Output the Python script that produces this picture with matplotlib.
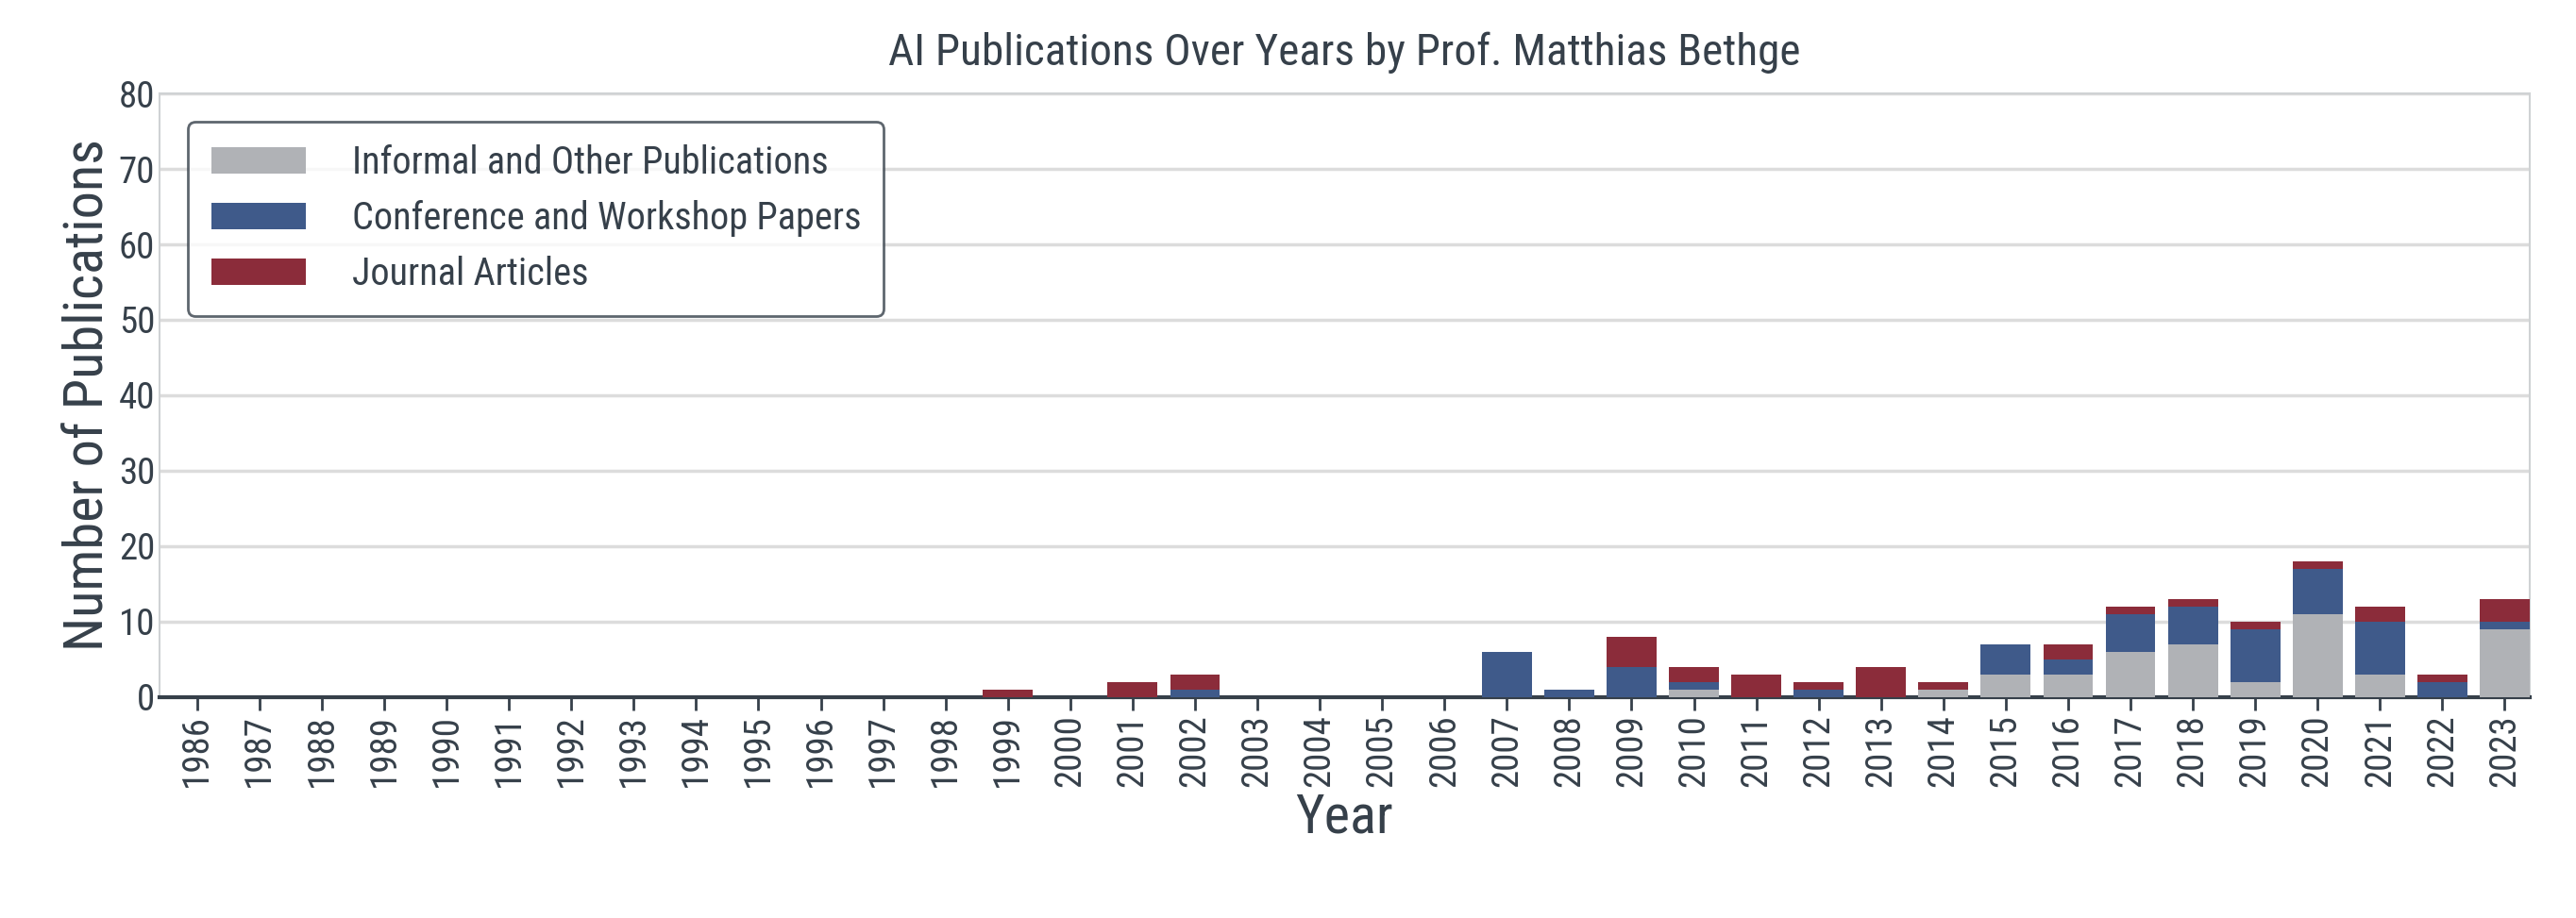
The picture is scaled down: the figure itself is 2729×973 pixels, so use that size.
import numpy as np
import matplotlib.pyplot as plt

years = list(range(1986, 2024))
informal = {2010: 1, 2014: 1, 2015: 3, 2016: 3, 2017: 6, 2018: 7, 2019: 2,
            2020: 11, 2021: 3, 2023: 9}
conference = {2002: 1, 2007: 6, 2008: 1, 2009: 4, 2010: 1, 2012: 1, 2015: 4,
              2016: 2, 2017: 5, 2018: 5, 2019: 7, 2020: 6, 2021: 7, 2022: 2, 2023: 1}
journal = {1999: 1, 2001: 2, 2002: 2, 2009: 4, 2010: 2, 2011: 3, 2012: 1, 2013: 4,
           2014: 1, 2016: 2, 2017: 1, 2018: 1, 2019: 1, 2020: 1, 2021: 2, 2022: 1, 2023: 3}

inf = np.array([informal.get(y, 0) for y in years])
conf = np.array([conference.get(y, 0) for y in years])
jour = np.array([journal.get(y, 0) for y in years])

plt.rcParams['font.family'] = ['Roboto Condensed', 'Roboto', 'DejaVu Sans']
dark = '#36404a'

fig = plt.figure(figsize=(27.29, 9.73), dpi=100)
ax = fig.add_axes([0.062, 0.241, 0.92, 0.657])
x = np.arange(len(years))
ax.bar(x, inf, width=0.8, color='#b0b2b6', label='Informal and Other Publications', zorder=3)
ax.bar(x, conf, width=0.8, bottom=inf, color='#3f5a8a', label='Conference and Workshop Papers', zorder=3)
ax.bar(x, jour, width=0.8, bottom=inf + conf, color='#8b2c3a', label='Journal Articles', zorder=3)

ax.set_xlim(-0.6, len(years) - 0.6)
ax.set_ylim(0, 80)
ax.set_yticks(range(0, 81, 10))
ax.set_xticks(x)
ax.set_xticklabels([str(y) for y in years], rotation=90)
ax.yaxis.grid(True, color='#dcdcdc', linewidth=2.5, zorder=0)
ax.tick_params(axis='both', labelsize=28, colors=dark, length=10, width=2)
ax.tick_params(axis='y', length=0)
for s in ['top', 'right', 'left']:
    ax.spines[s].set_color('#cfd2d4')
    ax.spines[s].set_linewidth(1.5)
ax.spines['bottom'].set_color(dark)
ax.spines['bottom'].set_linewidth(3)

ax.set_title('AI Publications Over Years by Prof. Matthias Bethge', fontsize=34, color=dark, pad=22)
ax.set_xlabel('Year', fontsize=42, color=dark)
ax.set_ylabel('Number of Publications', fontsize=42, color=dark)
leg = ax.legend(loc='upper left', fontsize=29, frameon=True, fancybox=True,
                borderpad=0.6, labelspacing=0.5, handlelength=2.5, handletextpad=1.2,
                bbox_to_anchor=(0.004, 0.985))
leg.get_frame().set_edgecolor(dark)
leg.get_frame().set_linewidth(2)
for t in leg.get_texts():
    t.set_color(dark)

fig.savefig('out.png', dpi=100)
